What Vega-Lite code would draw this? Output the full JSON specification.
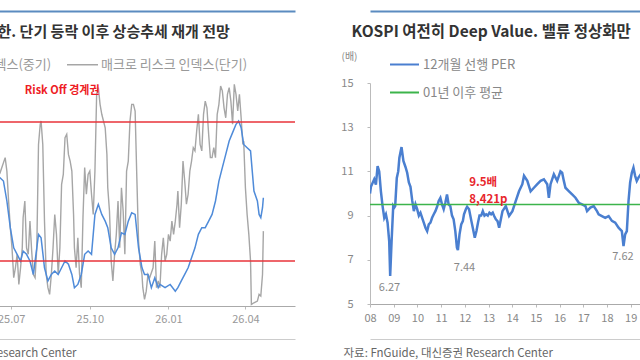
{
  "$schema": "https://vega.github.io/schema/vega-lite/v6.json",
  "background": "white",
  "padding": {"left": -130, "top": 11, "right": 0, "bottom": 0},
  "spacing": 44,
  "config": {
    "font": "Noto Sans CJK KR",
    "view": {"stroke": null},
    "axis": {"grid": false, "labelFont": "Noto Sans CJK KR", "titleFont": "Noto Sans CJK KR"},
    "legend": {"padding": 0, "labelFont": "Noto Sans CJK KR"}
  },
  "resolve": {"scale": {"color": "independent"}, "legend": {"color": "independent"}},
  "datasets": {
    "shortTerm": [
      {"date": "2025-05-01", "value": 45}, {"date": "2025-05-10", "value": 60}, {"date": "2025-05-20", "value": 35},
      {"date": "2025-05-30", "value": 70}, {"date": "2025-06-08", "value": 40}, {"date": "2025-06-14", "value": 55},
      {"date": "2025-06-18", "value": 58}, {"date": "2025-06-24", "value": 64.6}, {"date": "2025-06-26", "value": 58.8},
      {"date": "2025-06-28", "value": 45.9}, {"date": "2025-06-30", "value": 34.4}, {"date": "2025-07-02", "value": 25.7},
      {"date": "2025-07-04", "value": 12.8}, {"date": "2025-07-06", "value": 17.1}, {"date": "2025-07-08", "value": 22.9},
      {"date": "2025-07-10", "value": 9.9}, {"date": "2025-07-12", "value": 17.1}, {"date": "2025-07-14", "value": 25.7},
      {"date": "2025-07-15", "value": 38.7}, {"date": "2025-07-17", "value": 45.9}, {"date": "2025-07-19", "value": 25.7},
      {"date": "2025-07-21", "value": 22.9}, {"date": "2025-07-23", "value": 37.2}, {"date": "2025-07-25", "value": 24.3},
      {"date": "2025-07-27", "value": 14.2}, {"date": "2025-07-29", "value": 12.8}, {"date": "2025-07-31", "value": 25.7},
      {"date": "2025-08-02", "value": 70.3}, {"date": "2025-08-04", "value": 79}, {"date": "2025-08-05", "value": 80.4},
      {"date": "2025-08-07", "value": 70.3}, {"date": "2025-08-09", "value": 37.2}, {"date": "2025-08-11", "value": 14.2},
      {"date": "2025-08-13", "value": 8.5}, {"date": "2025-08-15", "value": 5.6}, {"date": "2025-08-17", "value": 14.2},
      {"date": "2025-08-19", "value": 25.7}, {"date": "2025-08-21", "value": 40.1}, {"date": "2025-08-23", "value": 31.5},
      {"date": "2025-08-25", "value": 14.2}, {"date": "2025-08-27", "value": 25.7}, {"date": "2025-08-29", "value": 53.1},
      {"date": "2025-08-31", "value": 57.4}, {"date": "2025-09-02", "value": 73.2}, {"date": "2025-09-04", "value": 74.7},
      {"date": "2025-09-06", "value": 66}, {"date": "2025-09-08", "value": 63.1}, {"date": "2025-09-10", "value": 58.8},
      {"date": "2025-09-12", "value": 40.1}, {"date": "2025-09-13", "value": 25.7}, {"date": "2025-09-15", "value": 17.1},
      {"date": "2025-09-17", "value": 30}, {"date": "2025-09-19", "value": 14.2}, {"date": "2025-09-21", "value": 8.5},
      {"date": "2025-09-23", "value": 38.7}, {"date": "2025-09-25", "value": 60.3}, {"date": "2025-09-27", "value": 48.8},
      {"date": "2025-09-29", "value": 57.4}, {"date": "2025-10-01", "value": 58.8}, {"date": "2025-10-03", "value": 48.8},
      {"date": "2025-10-05", "value": 40.1}, {"date": "2025-10-07", "value": 58.8}, {"date": "2025-10-09", "value": 91.9},
      {"date": "2025-10-11", "value": 94.8}, {"date": "2025-10-13", "value": 87.6}, {"date": "2025-10-15", "value": 83.3},
      {"date": "2025-10-17", "value": 80.4}, {"date": "2025-10-19", "value": 77.5}, {"date": "2025-10-21", "value": 66},
      {"date": "2025-10-22", "value": 51.6}, {"date": "2025-10-24", "value": 41.6}, {"date": "2025-10-26", "value": 20},
      {"date": "2025-10-28", "value": 11.4}, {"date": "2025-10-30", "value": 22.9}, {"date": "2025-11-01", "value": 31.5},
      {"date": "2025-11-03", "value": 45.9}, {"date": "2025-11-05", "value": 25.7}, {"date": "2025-11-07", "value": 51.6},
      {"date": "2025-11-09", "value": 41.6}, {"date": "2025-11-11", "value": 22.9}, {"date": "2025-11-13", "value": 58.8},
      {"date": "2025-11-15", "value": 63.1}, {"date": "2025-11-17", "value": 80.4}, {"date": "2025-11-19", "value": 87.6},
      {"date": "2025-11-21", "value": 87.6}, {"date": "2025-11-23", "value": 84.7}, {"date": "2025-11-25", "value": 55.9},
      {"date": "2025-11-27", "value": 28.6}, {"date": "2025-11-29", "value": 18.6}, {"date": "2025-12-01", "value": 14.2},
      {"date": "2025-12-02", "value": 8.5}, {"date": "2025-12-04", "value": 3.5}, {"date": "2025-12-06", "value": 7},
      {"date": "2025-12-08", "value": 14.2}, {"date": "2025-12-10", "value": 12.8}, {"date": "2025-12-14", "value": 17.1},
      {"date": "2025-12-16", "value": 28.6}, {"date": "2025-12-18", "value": 8.5}, {"date": "2025-12-20", "value": 11.4},
      {"date": "2025-12-22", "value": 8.5}, {"date": "2025-12-24", "value": 22.9}, {"date": "2025-12-26", "value": 30},
      {"date": "2025-12-28", "value": 20}, {"date": "2025-12-30", "value": 22.9}, {"date": "2026-01-01", "value": 31.5},
      {"date": "2026-01-03", "value": 28.6}, {"date": "2026-01-05", "value": 37.2}, {"date": "2026-01-07", "value": 31.5},
      {"date": "2026-01-09", "value": 37.2}, {"date": "2026-01-11", "value": 44.5}, {"date": "2026-01-12", "value": 50.2},
      {"date": "2026-01-14", "value": 34.4}, {"date": "2026-01-16", "value": 44.5}, {"date": "2026-01-18", "value": 63.1},
      {"date": "2026-01-20", "value": 54.5}, {"date": "2026-01-22", "value": 44.5}, {"date": "2026-01-24", "value": 48.8},
      {"date": "2026-01-26", "value": 58.8}, {"date": "2026-01-28", "value": 63.1}, {"date": "2026-01-30", "value": 68.9},
      {"date": "2026-02-01", "value": 67.5}, {"date": "2026-02-03", "value": 76.1}, {"date": "2026-02-05", "value": 83.3},
      {"date": "2026-02-07", "value": 70.3}, {"date": "2026-02-09", "value": 67.5}, {"date": "2026-02-11", "value": 83.3},
      {"date": "2026-02-13", "value": 89}, {"date": "2026-02-15", "value": 86.1}, {"date": "2026-02-17", "value": 74.7},
      {"date": "2026-02-19", "value": 64.6}, {"date": "2026-02-21", "value": 64.6}, {"date": "2026-02-23", "value": 68.9},
      {"date": "2026-02-25", "value": 64.6}, {"date": "2026-02-27", "value": 83.3}, {"date": "2026-03-01", "value": 87.6},
      {"date": "2026-03-03", "value": 95.5}, {"date": "2026-03-05", "value": 93.4}, {"date": "2026-03-07", "value": 86.1},
      {"date": "2026-03-09", "value": 81.8}, {"date": "2026-03-11", "value": 91.9}, {"date": "2026-03-13", "value": 94.8},
      {"date": "2026-03-15", "value": 89}, {"date": "2026-03-17", "value": 79}, {"date": "2026-03-19", "value": 96.2},
      {"date": "2026-03-21", "value": 91.9}, {"date": "2026-03-23", "value": 84.7}, {"date": "2026-03-25", "value": 91.9},
      {"date": "2026-03-27", "value": 81.8}, {"date": "2026-03-29", "value": 70.3}, {"date": "2026-03-30", "value": 71.8},
      {"date": "2026-04-01", "value": 51.6}, {"date": "2026-04-03", "value": 40.1}, {"date": "2026-04-05", "value": 31.5},
      {"date": "2026-04-07", "value": 20}, {"date": "2026-04-08", "value": 1.3}, {"date": "2026-04-11", "value": 2},
      {"date": "2026-04-15", "value": 2.7}, {"date": "2026-04-17", "value": 5.6}, {"date": "2026-04-19", "value": 4.9},
      {"date": "2026-04-21", "value": 14.2}, {"date": "2026-04-22", "value": 32.9}
    ],
    "midTerm": [
      {"date": "2025-05-01", "value": 50}, {"date": "2025-05-15", "value": 52}, {"date": "2025-06-01", "value": 48},
      {"date": "2025-06-10", "value": 55}, {"date": "2025-06-18", "value": 55.9}, {"date": "2025-06-22", "value": 54.5},
      {"date": "2025-06-26", "value": 45.9}, {"date": "2025-06-30", "value": 34.4}, {"date": "2025-07-04", "value": 25.7},
      {"date": "2025-07-08", "value": 22.9}, {"date": "2025-07-12", "value": 20}, {"date": "2025-07-15", "value": 24.3},
      {"date": "2025-07-19", "value": 22.9}, {"date": "2025-07-23", "value": 20}, {"date": "2025-07-27", "value": 14.2},
      {"date": "2025-07-31", "value": 25.7}, {"date": "2025-08-02", "value": 31.5}, {"date": "2025-08-05", "value": 30},
      {"date": "2025-08-09", "value": 17.1}, {"date": "2025-08-13", "value": 11.4}, {"date": "2025-08-17", "value": 14.2},
      {"date": "2025-08-21", "value": 15.7}, {"date": "2025-08-25", "value": 14.2}, {"date": "2025-08-29", "value": 17.1},
      {"date": "2025-09-02", "value": 20}, {"date": "2025-09-06", "value": 18.6}, {"date": "2025-09-10", "value": 14.2},
      {"date": "2025-09-13", "value": 8.5}, {"date": "2025-09-17", "value": 9.9}, {"date": "2025-09-21", "value": 14.2},
      {"date": "2025-09-25", "value": 22.9}, {"date": "2025-09-29", "value": 24.3}, {"date": "2025-10-03", "value": 22.9},
      {"date": "2025-10-07", "value": 40.1}, {"date": "2025-10-11", "value": 44.5}, {"date": "2025-10-15", "value": 40.1},
      {"date": "2025-10-19", "value": 37.2}, {"date": "2025-10-22", "value": 34.4}, {"date": "2025-10-26", "value": 25.7},
      {"date": "2025-10-30", "value": 22.9}, {"date": "2025-11-03", "value": 25.7}, {"date": "2025-11-07", "value": 32.2},
      {"date": "2025-11-11", "value": 31.5}, {"date": "2025-11-15", "value": 37.2}, {"date": "2025-11-19", "value": 40.8},
      {"date": "2025-11-23", "value": 40.1}, {"date": "2025-11-27", "value": 25.7}, {"date": "2025-12-01", "value": 17.1},
      {"date": "2025-12-04", "value": 14.2}, {"date": "2025-12-08", "value": 14.2}, {"date": "2025-12-12", "value": 8.5},
      {"date": "2025-12-16", "value": 12.8}, {"date": "2025-12-20", "value": 8.5}, {"date": "2025-12-22", "value": 9.9},
      {"date": "2025-12-28", "value": 8.5}, {"date": "2026-01-03", "value": 9.9}, {"date": "2026-01-09", "value": 7},
      {"date": "2026-01-12", "value": 8.5}, {"date": "2026-01-16", "value": 11.4}, {"date": "2026-01-20", "value": 14.2},
      {"date": "2026-01-24", "value": 17.1}, {"date": "2026-01-28", "value": 21.4}, {"date": "2026-02-01", "value": 25.7},
      {"date": "2026-02-05", "value": 31.5}, {"date": "2026-02-09", "value": 34.4}, {"date": "2026-02-13", "value": 34.4},
      {"date": "2026-02-17", "value": 37.2}, {"date": "2026-02-21", "value": 40.1}, {"date": "2026-02-25", "value": 45.9},
      {"date": "2026-03-01", "value": 54.5}, {"date": "2026-03-05", "value": 60.3}, {"date": "2026-03-09", "value": 66},
      {"date": "2026-03-13", "value": 71.8}, {"date": "2026-03-17", "value": 75.4}, {"date": "2026-03-21", "value": 79},
      {"date": "2026-03-24", "value": 80.4}, {"date": "2026-03-27", "value": 77.5}, {"date": "2026-03-30", "value": 70.3},
      {"date": "2026-04-03", "value": 68.9}, {"date": "2026-04-07", "value": 67.5}, {"date": "2026-04-09", "value": 58.8},
      {"date": "2026-04-11", "value": 50.2}, {"date": "2026-04-15", "value": 45.9}, {"date": "2026-04-17", "value": 40.1},
      {"date": "2026-04-19", "value": 38.7}, {"date": "2026-04-21", "value": 43}, {"date": "2026-04-22", "value": 47.3}
    ],
    "thresholds": [{"value": 80}, {"value": 20}],
    "leftNotes": [{"date": "2025-07-17", "value": 93.4, "label": "Risk Off 경계권"}],
    "per": [
      {"date": "2008-01-01", "value": 10.0}, {"date": "2008-01-15", "value": 10.3}, {"date": "2008-03-06", "value": 10.64},
      {"date": "2008-04-01", "value": 10.4}, {"date": "2008-04-27", "value": 11.24}, {"date": "2008-05-22", "value": 11.0},
      {"date": "2008-06-17", "value": 10.1}, {"date": "2008-07-13", "value": 9.43}, {"date": "2008-08-08", "value": 8.9},
      {"date": "2008-09-02", "value": 9.06}, {"date": "2008-09-28", "value": 8.68}, {"date": "2008-10-23", "value": 7.85},
      {"date": "2008-11-07", "value": 6.27}, {"date": "2008-11-29", "value": 7.85}, {"date": "2008-12-24", "value": 9.43},
      {"date": "2009-01-08", "value": 9.36}, {"date": "2009-01-23", "value": 9.43}, {"date": "2009-02-17", "value": 10.7},
      {"date": "2009-03-11", "value": 11.0}, {"date": "2009-03-29", "value": 11.62}, {"date": "2009-05-01", "value": 12.1},
      {"date": "2009-05-30", "value": 11.47}, {"date": "2009-07-01", "value": 11.2}, {"date": "2009-07-27", "value": 10.94},
      {"date": "2009-08-22", "value": 10.5}, {"date": "2009-09-16", "value": 10.3}, {"date": "2009-10-12", "value": 9.7},
      {"date": "2009-11-07", "value": 9.2}, {"date": "2009-12-02", "value": 9.51}, {"date": "2009-12-28", "value": 9.29},
      {"date": "2010-01-23", "value": 9.0}, {"date": "2010-02-17", "value": 9.13}, {"date": "2010-03-15", "value": 8.9},
      {"date": "2010-04-09", "value": 8.68}, {"date": "2010-05-05", "value": 8.45}, {"date": "2010-05-31", "value": 8.3},
      {"date": "2010-06-25", "value": 8.6}, {"date": "2010-07-21", "value": 8.68}, {"date": "2010-08-15", "value": 8.9},
      {"date": "2010-09-10", "value": 9.06}, {"date": "2010-10-05", "value": 9.2}, {"date": "2010-10-31", "value": 9.4},
      {"date": "2010-11-25", "value": 9.66}, {"date": "2010-12-21", "value": 9.8}, {"date": "2011-01-15", "value": 9.51},
      {"date": "2011-02-10", "value": 9.29}, {"date": "2011-03-07", "value": 9.58}, {"date": "2011-04-02", "value": 9.96},
      {"date": "2011-04-27", "value": 9.51}, {"date": "2011-05-23", "value": 9.43}, {"date": "2011-06-18", "value": 9.0},
      {"date": "2011-07-13", "value": 8.83}, {"date": "2011-08-08", "value": 8.3}, {"date": "2011-09-02", "value": 7.55},
      {"date": "2011-09-17", "value": 7.44}, {"date": "2011-10-12", "value": 8.15}, {"date": "2011-11-07", "value": 8.6},
      {"date": "2011-12-02", "value": 8.75}, {"date": "2011-12-20", "value": 9.06}, {"date": "2012-01-19", "value": 9.3},
      {"date": "2012-02-06", "value": 9.4}, {"date": "2012-03-07", "value": 9.29}, {"date": "2012-04-12", "value": 8.75},
      {"date": "2012-05-08", "value": 8.38}, {"date": "2012-06-03", "value": 8.0}, {"date": "2012-06-29", "value": 8.3},
      {"date": "2012-07-24", "value": 8.7}, {"date": "2012-08-15", "value": 9.0}, {"date": "2012-09-10", "value": 9.0},
      {"date": "2012-10-05", "value": 9.2}, {"date": "2012-10-31", "value": 9.0}, {"date": "2012-11-25", "value": 9.06},
      {"date": "2012-12-21", "value": 9.0}, {"date": "2013-01-15", "value": 9.13}, {"date": "2013-02-10", "value": 9.06},
      {"date": "2013-03-07", "value": 9.13}, {"date": "2013-03-29", "value": 8.98}, {"date": "2013-04-24", "value": 8.83},
      {"date": "2013-05-20", "value": 8.75}, {"date": "2013-06-14", "value": 8.45}, {"date": "2013-08-04", "value": 9.2},
      {"date": "2013-09-24", "value": 9.43}, {"date": "2013-11-14", "value": 8.98}, {"date": "2014-01-04", "value": 9.2},
      {"date": "2014-02-24", "value": 9.66}, {"date": "2014-04-16", "value": 10.1}, {"date": "2014-06-06", "value": 10.42},
      {"date": "2014-07-02", "value": 10.8}, {"date": "2014-08-22", "value": 10.57}, {"date": "2014-10-12", "value": 10.1},
      {"date": "2014-12-02", "value": 10.26}, {"date": "2015-01-23", "value": 10.42}, {"date": "2015-03-15", "value": 10.57},
      {"date": "2015-05-05", "value": 10.64}, {"date": "2015-06-25", "value": 10.42}, {"date": "2015-07-20", "value": 9.8},
      {"date": "2015-08-15", "value": 10.42}, {"date": "2015-10-05", "value": 10.87}, {"date": "2015-11-25", "value": 10.57},
      {"date": "2016-01-15", "value": 11.0}, {"date": "2016-02-10", "value": 10.94}, {"date": "2016-03-07", "value": 10.57},
      {"date": "2016-04-01", "value": 10.26}, {"date": "2016-05-22", "value": 10.11}, {"date": "2016-07-13", "value": 9.96},
      {"date": "2016-09-02", "value": 9.81}, {"date": "2016-10-23", "value": 9.58}, {"date": "2016-12-13", "value": 9.51},
      {"date": "2017-02-03", "value": 9.43}, {"date": "2017-02-28", "value": 9.2}, {"date": "2017-04-20", "value": 9.36},
      {"date": "2017-06-10", "value": 9.43}, {"date": "2017-07-31", "value": 9.2}, {"date": "2017-08-25", "value": 9.06},
      {"date": "2017-10-15", "value": 8.98}, {"date": "2017-12-05", "value": 8.9}, {"date": "2018-01-26", "value": 8.98},
      {"date": "2018-03-18", "value": 8.76}, {"date": "2018-05-08", "value": 8.68}, {"date": "2018-06-28", "value": 8.45},
      {"date": "2018-08-18", "value": 8.3}, {"date": "2018-09-13", "value": 7.62}, {"date": "2018-10-08", "value": 8.15},
      {"date": "2018-11-03", "value": 8.3}, {"date": "2018-11-29", "value": 9.66}, {"date": "2018-12-24", "value": 10.5},
      {"date": "2019-01-19", "value": 10.94}, {"date": "2019-02-13", "value": 11.17}, {"date": "2019-03-11", "value": 10.8},
      {"date": "2019-04-05", "value": 10.57}, {"date": "2019-05-01", "value": 10.72}, {"date": "2019-06-15", "value": 10.9}
    ],
    "avg": [{"date": "2008-01-01", "value": 9.5}, {"date": "2019-06-30", "value": 9.5}],
    "rightNotes": [
      {"date": "2012-03-08", "value": 10.48, "label": "9.5배"},
      {"date": "2012-03-08", "value": 9.71, "label": "8,421p"}
    ],
    "lows": [
      {"date": "2008-10-27", "value": 5.72, "label": "6.27"},
      {"date": "2011-12-28", "value": 6.63, "label": "7.44"},
      {"date": "2018-09-04", "value": 7.13, "label": "7.62"}
    ]
  },
  "hconcat": [
    {
      "width": 336,
      "height": 223,
      "encoding": {
        "y": {"field": "value", "type": "quantitative", "scale": {"domain": [0.6, 96.8], "nice": false, "zero": false}, "axis": null}
      },
      "resolve": {"axis": {"x": "independent"}},
      "layer": [
        {
          "data": {"name": "shortTerm"},
          "mark": {"type": "line", "strokeWidth": 1.4, "clip": true},
          "encoding": {
            "x": {"field": "date", "type": "temporal",
              "scale": {"type": "utc", "domain": [{"year": 2025, "month": 5, "date": 1, "utc": true}, {"year": 2026, "month": 5, "date": 29, "utc": true}]},
              "axis": {"orient": "bottom", "offset": 33, "domainColor": "#cccccc", "domainWidth": 1, "ticks": false, "labels": false,
                "title": "Research Center", "titleX": 30, "titleY": 14, "titleAlign": "left", "titleAnchor": "start", "titleBaseline": "middle",
                "titleFontSize": 11.5, "titleFontWeight": "normal", "titleColor": "#666666"}},
            "color": {"datum": "매크로 리스크 인덱스(단기)", "type": "nominal",
              "scale": {"domain": ["매크로 리스크 인덱스(중기)", "매크로 리스크 인덱스(단기)"], "range": ["#4f8bd9", "#a6a6a6"]},
              "legend": {"orient": "none", "legendX": -89, "legendY": -35, "direction": "horizontal", "title": null,
                "symbolType": "stroke", "symbolSize": 961, "symbolStrokeWidth": 1.5, "labelColor": "#999999", "labelFontSize": 13,
                "labelOffset": 2, "columnPadding": 12, "labelLimit": 300}}
          }
        },
        {
          "data": {"name": "midTerm"},
          "mark": {"type": "line", "strokeWidth": 1.5, "clip": true},
          "encoding": {
            "x": {"field": "date", "type": "temporal",
              "scale": {"type": "utc", "domain": [{"year": 2025, "month": 5, "date": 1, "utc": true}, {"year": 2026, "month": 5, "date": 29, "utc": true}]},
              "axis": {"orient": "bottom", "format": "%y.%m", "tickCount": {"interval": "month", "step": 3}, "labelFlush": false,
                "labelColor": "#999999", "labelFontSize": 11, "labelPadding": 4, "tickSize": 3, "tickColor": "#bbbbbb",
                "domainColor": "#aaaaaa", "title": null}},
            "color": {"datum": "매크로 리스크 인덱스(중기)", "type": "nominal",
              "scale": {"domain": ["매크로 리스크 인덱스(중기)", "매크로 리스크 인덱스(단기)"], "range": ["#4f8bd9", "#a6a6a6"]},
              "legend": {"orient": "none", "legendX": -89, "legendY": -35, "direction": "horizontal", "title": null,
                "symbolType": "stroke", "symbolSize": 961, "symbolStrokeWidth": 1.5, "labelColor": "#999999", "labelFontSize": 13,
                "labelOffset": 2, "columnPadding": 12, "labelLimit": 300}}
          }
        },
        {
          "data": {"name": "thresholds"},
          "mark": {"type": "rule", "color": "#e8333a", "strokeWidth": 1.5},
          "encoding": {}
        },
        {
          "data": {"name": "leftNotes"},
          "mark": {"type": "text", "align": "left", "baseline": "middle", "fontSize": 11, "fontWeight": "bold", "color": "#ee1c25"},
          "encoding": {
            "x": {"field": "date", "type": "temporal",
              "scale": {"type": "utc", "domain": [{"year": 2025, "month": 5, "date": 1, "utc": true}, {"year": 2026, "month": 5, "date": 29, "utc": true}]},
              "axis": {"orient": "top", "offset": 72, "domainColor": "#5b8bc0", "domainWidth": 2, "ticks": false, "labels": false,
                "title": "한. 단기 등락 이후 상승추세 재개 전망", "titleX": 38, "titleY": 20, "titleAlign": "left", "titleAnchor": "start",
                "titleBaseline": "middle", "titleFontSize": 15, "titleFontWeight": "bold", "titleColor": "#333333"}},
            "text": {"field": "label"}
          }
        }
      ]
    },
    {
      "width": 270,
      "height": 221,
      "encoding": {
        "y": {"field": "value", "type": "quantitative", "scale": {"domain": [5, 15]},
          "axis": {"values": [5, 7, 9, 11, 13, 15], "title": "(배)", "titleAngle": 0, "titleX": -21, "titleY": -27,
            "titleAlign": "center", "titleBaseline": "middle", "titleFontSize": 10, "titleFontWeight": "normal", "titleColor": "#888888",
            "labelColor": "#888888", "labelFontSize": 11, "labelPadding": 14, "tickSize": 3, "tickColor": "#bbbbbb",
            "domainColor": "#bbbbbb", "grid": false}}
      },
      "resolve": {"axis": {"x": "independent"}},
      "layer": [
        {
          "data": {"name": "per"},
          "mark": {"type": "line", "strokeWidth": 2.5, "clip": true},
          "encoding": {
            "x": {"field": "date", "type": "temporal",
              "scale": {"type": "utc", "domain": [{"year": 2008, "month": 1, "date": 1, "utc": true}, {"year": 2019, "month": 5, "date": 25, "utc": true}]},
              "axis": {"orient": "bottom", "format": "%y", "tickCount": {"interval": "year", "step": 1}, "labelFlush": false,
                "labelOverlap": false, "labelColor": "#888888", "labelFontSize": 11, "labelPadding": 5, "tickSize": 3,
                "tickColor": "#bbbbbb", "domainColor": "#aaaaaa", "title": null}},
            "color": {"datum": "12개월 선행 PER", "type": "nominal",
              "scale": {"domain": ["12개월 선행 PER", "01년 이후 평균"], "range": ["#4a7fd0", "#3cb44b"]},
              "legend": {"orient": "none", "legendX": 19, "legendY": -34, "direction": "vertical", "title": null,
                "symbolType": "stroke", "symbolSize": 841, "symbolStrokeWidth": 2, "labelColor": "#888888", "labelFontSize": 13,
                "labelOffset": 3, "rowPadding": 5, "labelLimit": 300}}
          }
        },
        {
          "data": {"name": "avg"},
          "mark": {"type": "line", "strokeWidth": 1.6, "clip": true},
          "encoding": {
            "x": {"field": "date", "type": "temporal",
              "scale": {"type": "utc", "domain": [{"year": 2008, "month": 1, "date": 1, "utc": true}, {"year": 2019, "month": 5, "date": 25, "utc": true}]},
              "axis": {"orient": "top", "offset": 72, "domainColor": "#5b8bc0", "domainWidth": 2, "ticks": false, "labels": false,
                "title": "KOSPI 여전히 Deep Value. 밸류 정상화만", "titleX": -19, "titleY": 20, "titleAlign": "left", "titleAnchor": "start",
                "titleBaseline": "middle", "titleFontSize": 15.5, "titleFontWeight": "bold", "titleColor": "#333333"}},
            "color": {"datum": "01년 이후 평균", "type": "nominal",
              "scale": {"domain": ["12개월 선행 PER", "01년 이후 평균"], "range": ["#4a7fd0", "#3cb44b"]},
              "legend": {"orient": "none", "legendX": 19, "legendY": -34, "direction": "vertical", "title": null,
                "symbolType": "stroke", "symbolSize": 841, "symbolStrokeWidth": 2, "labelColor": "#888888", "labelFontSize": 13,
                "labelOffset": 3, "rowPadding": 5, "labelLimit": 300}}
          }
        },
        {
          "data": {"name": "rightNotes"},
          "mark": {"type": "text", "align": "left", "baseline": "middle", "fontSize": 11.5, "fontWeight": "bold", "color": "#e8262c"},
          "encoding": {
            "x": {"field": "date", "type": "temporal",
              "scale": {"type": "utc", "domain": [{"year": 2008, "month": 1, "date": 1, "utc": true}, {"year": 2019, "month": 5, "date": 25, "utc": true}]},
              "axis": {"orient": "bottom", "offset": 35, "domainColor": "#cccccc", "domainWidth": 1, "ticks": false, "labels": false,
                "title": "자료: FnGuide, 대신증권 Research Center", "titleX": -27, "titleY": 14, "titleAlign": "left", "titleAnchor": "start",
                "titleBaseline": "middle", "titleFontSize": 11.5, "titleFontWeight": "normal", "titleColor": "#666666"}},
            "text": {"field": "label"}
          }
        },
        {
          "data": {"name": "lows"},
          "mark": {"type": "text", "align": "center", "baseline": "middle", "fontSize": 11, "color": "#888888"},
          "encoding": {
            "x": {"field": "date", "type": "temporal",
              "scale": {"type": "utc", "domain": [{"year": 2008, "month": 1, "date": 1, "utc": true}, {"year": 2019, "month": 5, "date": 25, "utc": true}]},
              "axis": null},
            "text": {"field": "label"}
          }
        }
      ]
    }
  ]
}
